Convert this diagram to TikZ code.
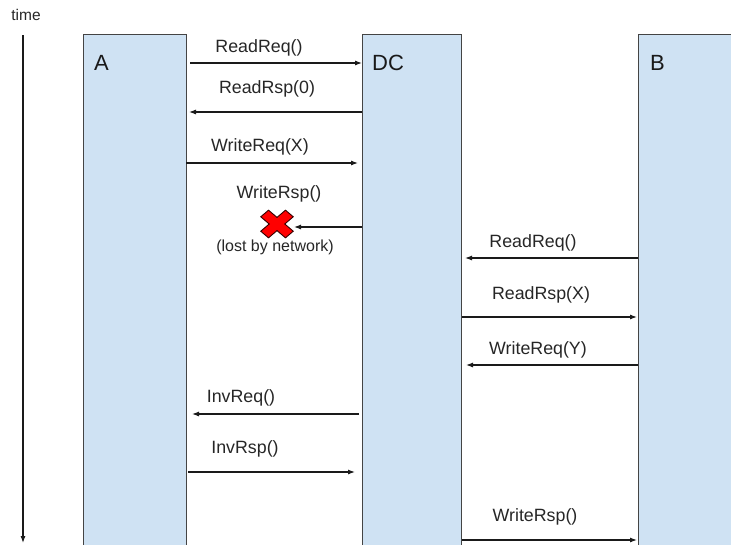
\documentclass[tikz,border=0pt]{standalone}
\usepackage{fontspec}
\setmainfont{Liberation Sans}
\usetikzlibrary{arrows.meta}
\definecolor{lanefill}{HTML}{CFE2F3}
\definecolor{laneedge}{HTML}{444444}
\definecolor{msgline}{HTML}{1A1A1A}
\definecolor{crossred}{HTML}{FF0000}
\begin{document}
\begin{tikzpicture}[x=1pt, y=-1pt,
  lane/.style={draw=laneedge, fill=lanefill, line width=1.4pt, inner sep=0pt, anchor=north west},
  who/.style={font=\fontsize{22}{25}\selectfont, inner sep=0pt, anchor=west, text=black!90},
  msg/.style={draw=msgline, line width=1.1pt, -{Latex[length=7pt,width=5pt]}},
  lbl/.style={font=\fontsize{17.8}{20}\selectfont, inner sep=0pt, text=black!85},
  note/.style={font=\fontsize{16}{18}\selectfont, inner sep=0pt, text=black!85}]
\useasboundingbox (0,0) rectangle (731,544);
\clip (0,0) rectangle (731,544);

% lifelines
\node[lane, minimum width=103pt, minimum height=530pt] (A)  at (83,34)  {};
\node[lane, minimum width=99pt,  minimum height=530pt] (DC) at (362,34) {};
\node[lane, minimum width=130pt, minimum height=530pt] (B)  at (638,34) {};
\node[who] (Aname)  at (94,63)  {A};
\node[who] (DCname) at (372,63) {DC};
\node[who] (Bname)  at (650,63) {B};

% time axis
\node[lbl, font=\fontsize{15.5}{18}\selectfont] (time) at (26,15) {time};
\coordinate (t0) at (23,35);
\coordinate (t1) at (23,543);
\draw[msg] (t0) -- (t1);

% message end points
\coordinate (m1a) at (190,63);  \coordinate (m1b) at (362,63);
\coordinate (m2a) at (362,112); \coordinate (m2b) at (189,112);
\coordinate (m3a) at (186,163); \coordinate (m3b) at (358,163);
\coordinate (m4a) at (362,227); \coordinate (m4b) at (294,227);
\coordinate (m5a) at (638,258); \coordinate (m5b) at (465,258);
\coordinate (m6a) at (462,317); \coordinate (m6b) at (637,317);
\coordinate (m7a) at (638,365); \coordinate (m7b) at (466,365);
\coordinate (m8a) at (359,414); \coordinate (m8b) at (192,414);
\coordinate (m9a) at (188,472); \coordinate (m9b) at (355,472);
\coordinate (m10a) at (462,540); \coordinate (m10b) at (637,540);

\draw[msg] (m1a) -- (m1b);
\draw[msg] (m2a) -- (m2b);
\draw[msg] (m3a) -- (m3b);
\draw[msg] (m4a) -- (m4b);
\draw[msg] (m5a) -- (m5b);
\draw[msg] (m6a) -- (m6b);
\draw[msg] (m7a) -- (m7b);
\draw[msg] (m8a) -- (m8b);
\draw[msg] (m9a) -- (m9b);
\draw[msg] (m10a) -- (m10b);

% message labels
\node[lbl] (l1) at (259,48)  {ReadReq()};
\node[lbl] (l2) at (267,89)  {ReadRsp(0)};
\node[lbl] (l3) at (260,147) {WriteReq(X)};
\node[lbl] (l4) at (279,194) {WriteRsp()};
\node[lbl] (l5) at (533,243) {ReadReq()};
\node[lbl] (l6) at (541,295) {ReadRsp(X)};
\node[lbl] (l7) at (538,350) {WriteReq(Y)};
\node[lbl] (l8) at (241,398) {InvReq()};
\node[lbl] (l9) at (245,449) {InvRsp()};
\node[lbl] (l10) at (535,517) {WriteRsp()};

% lost message marker
\coordinate (lost) at (277,224);
\begin{scope}[shift={(lost)}, yscale=0.85, rotate=45]
  \filldraw[fill=crossred, draw=black!80!red, line width=0.9pt]
    (-5.5,-17.5) -- (5.5,-17.5) -- (5.5,-5.5) -- (17.5,-5.5) -- (17.5,5.5)
    -- (5.5,5.5) -- (5.5,17.5) -- (-5.5,17.5) -- (-5.5,5.5) -- (-17.5,5.5)
    -- (-17.5,-5.5) -- (-5.5,-5.5) -- cycle;
\end{scope}
\node[note] (lostnote) at (275,247) {(lost by network)};
\end{tikzpicture}
\end{document}
